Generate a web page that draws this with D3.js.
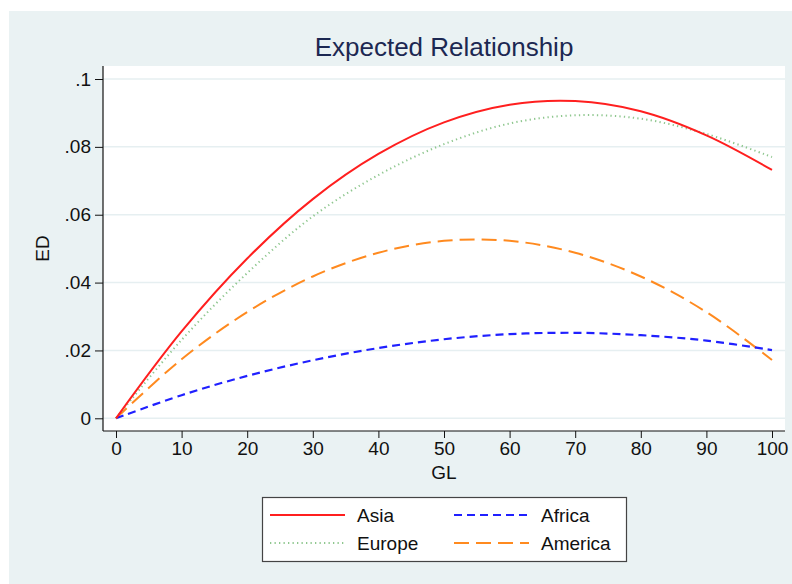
<!DOCTYPE html>
<html>
<head>
<meta charset="utf-8">
<script src="https://cdn.jsdelivr.net/npm/d3@7"></script>
<style>
    html, body { margin: 0; padding: 0; background: #ffffff; }
    svg { display: block; }
</style>
</head>
<body>
<svg id="chart"></svg>
<script>
// values
const GL_VALUES = [0, 10, 20, 30, 40, 50, 60, 70, 80, 90, 100];
const ASIA    = [0, 0.0256, 0.0471, 0.0646, 0.0779, 0.0872, 0.0924, 0.0935, 0.0905, 0.0834, 0.0732];
const EUROPE  = [0, 0.0231, 0.0428, 0.0595, 0.0717, 0.0808, 0.0869, 0.0893, 0.0883, 0.0838, 0.0770];
const AFRICA  = [0, 0.0068, 0.0125, 0.0171, 0.0207, 0.0233, 0.0248, 0.0252, 0.0245, 0.0229, 0.0201];
const AMERICA = [0, 0.0174, 0.0313, 0.0418, 0.0488, 0.0523, 0.0523, 0.0488, 0.0418, 0.0313, 0.0172];

const SERIES_NAMES = ["Asia", "Europe", "Africa", "America"];
const X_TICKS = [0, 10, 20, 30, 40, 50, 60, 70, 80, 90, 100];
const Y_TICKS = [0, 0.02, 0.04, 0.06, 0.08, 0.1];
const Y_TICK_LABELS = ["0", ".02", ".04", ".06", ".08", ".1"];

const WIDTH = 792;
const HEIGHT = 584;
const FONT = "'Liberation Sans', Arial, Helvetica, sans-serif";

// plot region (white) and the data range inside it
const PLOT = { left: 103, right: 785, top: 66, bottom: 431 };

const STYLES = {
    "Asia":    { color: "#ff1f1f", dash: null,      width: 2 },
    "Europe":  { color: "#8fc78f", dash: "1.3,3.2", width: 2 },
    "Africa":  { color: "#2020ff", dash: "8,5",     width: 2.2 },
    "America": { color: "#ff8a1f", dash: "15,7",    width: 2 }
};

const SERIES = [ASIA, EUROPE, AFRICA, AMERICA].map(function (vals, i) {
    return {
        name: SERIES_NAMES[i],
        points: GL_VALUES.map(function (g, j) { return [g, vals[j]]; })
    };
});

let xScale = d3.scaleLinear()
    .domain([0, 100])
    .range([116, 772]);

let yScale = d3.scaleLinear()
    .domain([0, 0.1])
    .range([418.3, 79]);

let svg = d3.select("#chart")
    .attr("width", WIDTH)
    .attr("height", HEIGHT);

// outer panel
svg.append("rect")
    .attr("x", 9).attr("y", 11)
    .attr("width", WIDTH - 9).attr("height", HEIGHT - 11)
    .attr("fill", "#eaf2f3");

// plot background
svg.append("rect")
    .attr("x", PLOT.left).attr("y", PLOT.top)
    .attr("width", PLOT.right - PLOT.left).attr("height", PLOT.bottom - PLOT.top)
    .attr("fill", "#ffffff");

// grid lines
svg.append("g")
    .selectAll("line")
    .data(Y_TICKS)
    .enter()
    .append("line")
    .attr("x1", PLOT.left).attr("x2", PLOT.right)
    .attr("y1", function (d) { return yScale(d); })
    .attr("y2", function (d) { return yScale(d); })
    .attr("stroke", "#e6eff1")
    .attr("stroke-width", 1.5);

// title
svg.append("text")
    .attr("x", (PLOT.left + PLOT.right) / 2)
    .attr("y", 56)
    .attr("text-anchor", "middle")
    .attr("font-family", FONT)
    .attr("font-size", "26px")
    .attr("fill", "#1c2852")
    .text("Expected Relationship");

// y axis
let yAxis = d3.axisLeft(yScale)
    .tickValues(Y_TICKS)
    .tickFormat(function (d, i) { return Y_TICK_LABELS[i]; })
    .tickSize(8)
    .tickPadding(4);

let yg = svg.append("g")
    .attr("transform", "translate(" + PLOT.left + ",0)")
    .call(yAxis);
yg.select(".domain").remove();
yg.selectAll("text")
    .attr("font-family", FONT)
    .attr("font-size", "19px")
    .attr("fill", "#111");
yg.selectAll("line").attr("stroke", "#111");

// x axis
let xAxis = d3.axisBottom(xScale)
    .tickValues(X_TICKS)
    .tickFormat(d3.format("d"))
    .tickSize(7)
    .tickPadding(4);

let xg = svg.append("g")
    .attr("transform", "translate(0," + PLOT.bottom + ")")
    .call(xAxis);
xg.select(".domain").remove();
xg.selectAll("text")
    .attr("font-family", FONT)
    .attr("font-size", "19px")
    .attr("fill", "#111");
xg.selectAll("line").attr("stroke", "#111");

// axis lines
svg.append("line")
    .attr("x1", PLOT.left).attr("x2", PLOT.left)
    .attr("y1", PLOT.top).attr("y2", PLOT.bottom)
    .attr("stroke", "#111").attr("stroke-width", 1.2);
svg.append("line")
    .attr("x1", PLOT.left).attr("x2", PLOT.right)
    .attr("y1", PLOT.bottom).attr("y2", PLOT.bottom)
    .attr("stroke", "#111").attr("stroke-width", 1.2);

// axis titles
svg.append("text")
    .attr("x", (PLOT.left + PLOT.right) / 2)
    .attr("y", 479)
    .attr("text-anchor", "middle")
    .attr("font-family", FONT)
    .attr("font-size", "19px")
    .attr("fill", "#111")
    .text("GL");

svg.append("text")
    .attr("transform", "translate(49," + ((PLOT.top + PLOT.bottom) / 2) + ") rotate(-90)")
    .attr("text-anchor", "middle")
    .attr("font-family", FONT)
    .attr("font-size", "19px")
    .attr("fill", "#111")
    .text("ED");

// curves
let line = d3.line()
    .x(function (d) { return xScale(d[0]); })
    .y(function (d) { return yScale(d[1]); })
    .curve(d3.curveCatmullRom.alpha(0.5));

// draw in reverse so Asia ends up on top
svg.append("g")
    .selectAll("path")
    .data(SERIES.slice().reverse())
    .enter()
    .append("path")
    .attr("d", function (d) { return line(d.points); })
    .attr("fill", "none")
    .attr("stroke", function (d) { return STYLES[d.name].color; })
    .attr("stroke-width", function (d) { return STYLES[d.name].width; })
    .attr("stroke-dasharray", function (d) { return STYLES[d.name].dash; });

// legend
const LEGEND_ORDER = ["Asia", "Africa", "Europe", "America"];
let legend = svg.append("g");
legend.append("rect")
    .attr("x", 262.5).attr("y", 497.5)
    .attr("width", 364).attr("height", 64)
    .attr("fill", "#ffffff")
    .attr("stroke", "#444")
    .attr("stroke-width", 1.2);

let items = legend.selectAll("g.item")
    .data(LEGEND_ORDER)
    .enter()
    .append("g")
    .attr("class", "item")
    .attr("transform", function (d, i) {
        let col = i % 2, row = Math.floor(i / 2);
        return "translate(" + (270 + col * 184) + "," + (515 + row * 28) + ")";
    });

items.append("line")
    .attr("x1", 0).attr("x2", 75)
    .attr("y1", 0).attr("y2", 0)
    .attr("stroke", function (d) { return STYLES[d].color; })
    .attr("stroke-width", function (d) { return STYLES[d].width; })
    .attr("stroke-dasharray", function (d) { return STYLES[d].dash; });

items.append("text")
    .attr("x", 87)
    .attr("y", 7)
    .attr("font-family", FONT)
    .attr("font-size", "19px")
    .attr("fill", "#111")
    .text(function (d) { return d; });
</script>
</body>
</html>
